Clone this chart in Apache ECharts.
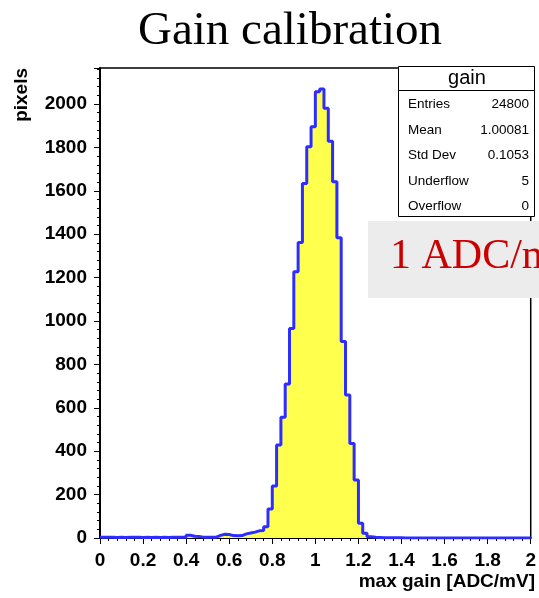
<!DOCTYPE html>
<html>
<head>
<meta charset="utf-8">
<script src="https://cdn.jsdelivr.net/npm/echarts@6/dist/echarts.min.js"></script>
<style>html,body{margin:0;padding:0;background:#fff}#c{width:539px;height:598px}</style>
</head>
<body>
<div id="c"></div>
<script>
// ---- data ----
var histName = 'gain';
var xMin = 0, xMax = 2, nBins = 100;
var counts = [
  3,4,3,2,3,2,3,4,3,2, 3,2,3,2,3,2,3,4,3,3,
  13,8,7,4,4,3,4,12,17,16, 11,10,11,19,23,27,33,35,52,134,
  240,429,556,710,966,1227,1362,1634,1803,1895,
  2057,2069,1980,1829,1642,1384,905,659,436,267,
  68,22,6,3,2,1,1,1,1,1, 0,0,0,0,0,0,0,0,0,0,
  0,0,0,0,0,0,0,0,0,0, 0,0,0,0,0,0,0,0,0,0
];
var statLabels = ['Entries','Mean','Std Dev','Underflow','Overflow'];
var statValues = ['24800','1.00081','0.1053','5','0'];
var xTickLabels = ['0','0.2','0.4','0.6','0.8','1','1.2','1.4','1.6','1.8','2'];
var yMax = 2166;

// ---- build ----
var bw = (xMax - xMin) / nBins;
var stepData = counts.map(function(v, i){ return [xMin + i*bw, v]; });
stepData.push([xMax, counts[counts.length-1]]);

var chart = echarts.init(document.getElementById('c'), null, {renderer:'canvas'});
var axisFont = {fontFamily:'Liberation Sans, Arial, sans-serif', fontWeight:'bold', fontSize:19, color:'#000'};
var G = {left:100, top:68, right:535, bottom:538};

var graphics = [];
// title
graphics.push({type:'text', x:290, y:32, style:{text:'Gain calibration', font:'47px "Liberation Serif", "Times New Roman", serif', fill:'#000', align:'center', verticalAlign:'middle'}, z:100});
// y axis name
graphics.push({type:'text', x:22, y:68, rotation:Math.PI/2, style:{text:'pixels', font:'bold 19px "Liberation Sans", Arial, sans-serif', fill:'#000', align:'right', verticalAlign:'middle'}, z:100});
// x axis name
graphics.push({type:'text', x:535, y:582, style:{text:'max gain [ADC/mV]', font:'bold 19px "Liberation Sans", Arial, sans-serif', fill:'#000', align:'right', verticalAlign:'middle'}, z:100});
// stats box
graphics.push({type:'rect', shape:{x:398.5, y:66.5, width:136, height:150}, style:{fill:'#fff', stroke:'#000', lineWidth:1}, z:100});
graphics.push({type:'line', shape:{x1:398.5, y1:90.5, x2:534.5, y2:90.5}, style:{stroke:'#000', lineWidth:1}, z:101});
graphics.push({type:'text', x:467, y:78, style:{text:histName, font:'20px "Liberation Sans", Arial, sans-serif', fill:'#000', align:'center', verticalAlign:'middle'}, z:101});
var rowY = [104,130,155.5,181,206];
statLabels.forEach(function(s, i){
  graphics.push({type:'text', x:408, y:rowY[i], style:{text:s, font:'13.5px "Liberation Sans", Arial, sans-serif', fill:'#000', align:'left', verticalAlign:'middle'}, z:101});
  graphics.push({type:'text', x:529, y:rowY[i], style:{text:statValues[i], font:'13.5px "Liberation Sans", Arial, sans-serif', fill:'#000', align:'right', verticalAlign:'middle'}, z:101});
});
// gray annotation box
graphics.push({type:'rect', shape:{x:368, y:221, width:180, height:77}, style:{fill:'#ececec'}, z:100});
graphics.push({type:'text', x:390, y:257, style:{text:'1 ADC/mV', font:'42px "Liberation Serif", "Times New Roman", serif', fill:'#cc0000', align:'left', verticalAlign:'middle'}, z:101});

chart.setOption({
  animation:false,
  grid:{left:G.left, top:G.top, right:539-G.right, bottom:598-G.bottom, show:true, borderColor:'#000', borderWidth:1.5, backgroundColor:'transparent'},
  xAxis:{type:'value', min:xMin, max:xMax, interval:0.2,
    axisLine:{show:true, onZero:false, lineStyle:{color:'#000', width:2}},
    axisTick:{show:true, length:6, lineStyle:{color:'#000', width:1}},
    minorTick:{show:true, splitNumber:5, length:3, lineStyle:{color:'#000', width:1}},
    splitLine:{show:false},
    axisLabel:Object.assign({margin:13, formatter:function(v){ var k=Math.round(v/0.2); return xTickLabels[k]; }}, axisFont)
  },
  yAxis:{type:'value', min:0, max:yMax, interval:200,
    axisLine:{show:true, lineStyle:{color:'#000', width:2}},
    axisTick:{show:true, length:6, lineStyle:{color:'#000', width:1}},
    minorTick:{show:true, splitNumber:5, length:3, lineStyle:{color:'#000', width:1}},
    splitLine:{show:false},
    axisLabel:Object.assign({margin:13, showMaxLabel:false, formatter:function(v){ return String(v); }}, axisFont)
  },
  series:[{
    type:'line', step:'end', data:stepData, symbol:'none', clip:true,
    lineStyle:{color:'#2d2dff', width:3},
    areaStyle:{color:'#ffff4d', opacity:1}
  }],
  graphic:graphics
});
</script>
</body>
</html>
